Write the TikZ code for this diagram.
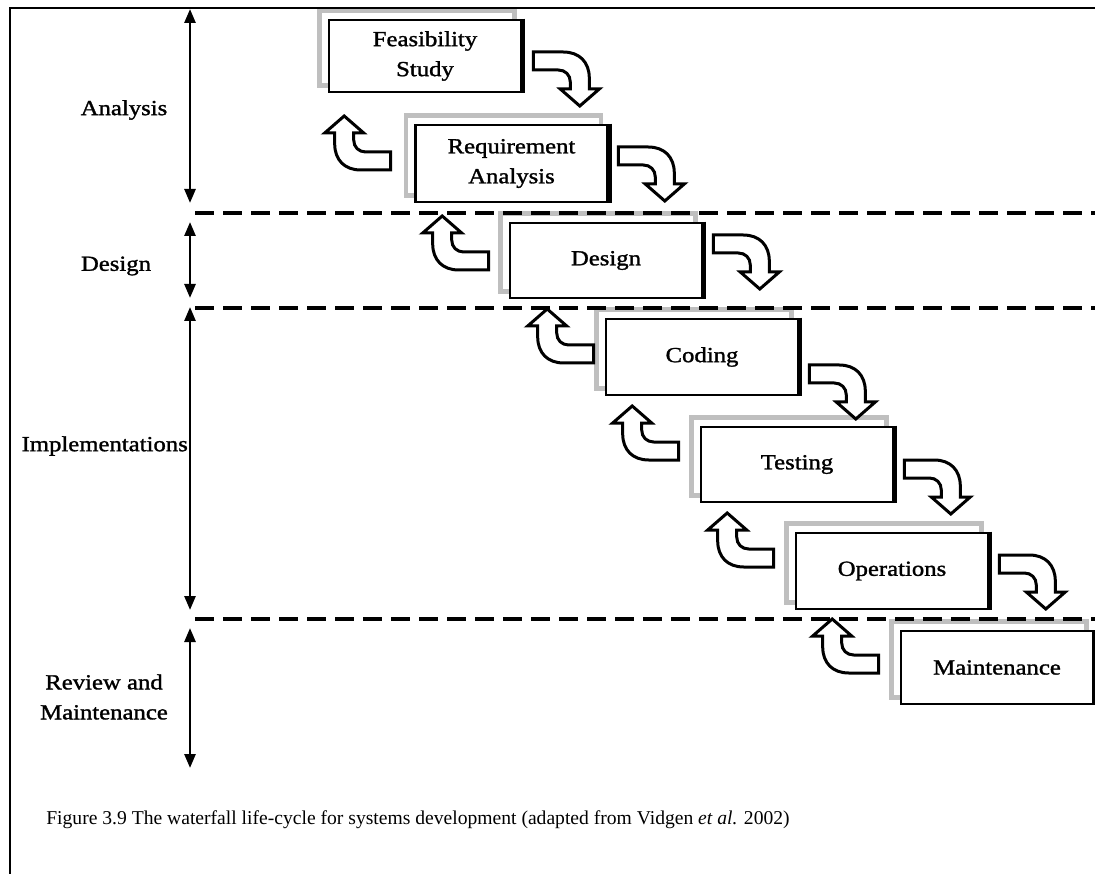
\documentclass[tikz,border=0pt]{standalone}
\usepackage{fontspec}
\setmainfont{Liberation Serif}
\newfontfamily\lblfont[FakeStretch=1.15,FakeBold=1.4]{Liberation Serif}
\usetikzlibrary{arrows.meta,calc,backgrounds}

\tikzset{
  lbl/.style={font=\lblfont\fontsize{21.5}{30}\selectfont, align=center, inner sep=0pt},
  stage/.style={lbl, draw=black, line width=2.6pt, fill=white,
    minimum width=192pt, minimum height=75pt},
  shadowband/.style={draw=black!25, line width=4.5pt},
  phase/.style={line width=2.6pt, {Triangle[width=11pt,length=14pt]}-{Triangle[width=11pt,length=14pt]}},
  divider/.style={line width=4.5pt, dash pattern=on 19pt off 9pt},
  frame/.style={line width=2pt},
  pics/turnarrow/.style={code={
    \draw[line width=3pt, fill=white, line join=miter]
      (0,0) -- (30,0) .. controls (46,0) and (56,10) .. (56,26) -- (56,37)
      -- (66,37) -- (46.5,54) -- (27,37) -- (37,37) -- (37,30)
      .. controls (37,23) and (32,18) .. (25,18) -- (0,18) -- cycle;
  }}
}

\begin{document}
\begin{tikzpicture}[x=1pt,y=-1pt]
\useasboundingbox (0,0) rectangle (1095,874);

% outer frame (top and left rules)
\draw[frame] (10,874) -- (10,8) -- (1095,8);

% phase dividers
\draw[divider] (195,213) -- (1095,213);
\draw[divider] (195,308) -- (1095,308);
\draw[divider] (195,619) -- (1095,619);

% phase extents
\coordinate (pa1) at (190,9);   \coordinate (pa2) at (190,203);
\coordinate (pd1) at (190,222); \coordinate (pd2) at (190,298);
\coordinate (pi1) at (190,307); \coordinate (pi2) at (190,610);
\coordinate (pr1) at (190,628); \coordinate (pr2) at (190,768);
\draw[phase] (pa1) -- (pa2);
\draw[phase] (pd1) -- (pd2);
\draw[phase] (pi1) -- (pi2);
\draw[phase] (pr1) -- (pr2);

% phase names
\node[lbl] (lana) at (124,110) {Analysis};
\node[lbl] (ldes) at (116,266) {Design};
\node[lbl, anchor=east] (limp) at (188,446) {Implementations};
\node[lbl] (lrev) at (104,697) {Review and\\Maintenance};

% stages
\node[stage, minimum height=72pt] (feas) at (425,56) {Feasibility\\Study};
\node[stage, minimum height=77pt] (req)  at (511.5,163.5) {Requirement\\Analysis};
\node[stage] (des)  at (606,260.5) {Design};
\node[stage, minimum height=76pt] (cod)  at (702,357) {Coding};
\node[stage] (tes)  at (797,464.5) {Testing};
\node[stage, minimum height=76pt] (ope)  at (892,571) {Operations};
\node[stage, minimum height=73pt] (mai)  at (997,667.5) {Maintenance};

% stippled offset outline behind each stage
\begin{pgfonlayer}{background}
\foreach \n in {feas,req,des,cod,tes,ope,mai}
  \draw[shadowband] ($(\n.north west)+(-8,-8)$) rectangle ($(\n.south east)+(-8,-8)$);
\end{pgfonlayer}

% heavier right edges
\foreach \n in {feas,req,des,cod,tes,ope,mai}
  \draw[line width=4pt] ($(\n.north east)+(0.8,0)$) -- ($(\n.south east)+(0.8,0)$);

% forward flow (down the cascade)
\pic at ($(feas.east)+(11,-4)$)   {turnarrow};
\pic at ($(req.east)+(9.5,-16.5)$) {turnarrow};
\pic at ($(des.east)+(10,-25.5)$) {turnarrow};
\pic at ($(cod.east)+(10,8)$)     {turnarrow};
\pic at ($(tes.east)+(10,-4.5)$)  {turnarrow};
\pic at ($(ope.east)+(10,-16)$)   {turnarrow};

% feedback flow (back up the cascade)
\pic[rotate=180] at ($(req.west)+(-23.5,6.5)$) {turnarrow};
\pic[rotate=180] at ($(des.west)+(-20,9.5)$)   {turnarrow};
\pic[rotate=180] at ($(cod.west)+(-11,6)$)     {turnarrow};
\pic[rotate=180] at ($(tes.west)+(-21,-4.5)$)  {turnarrow};
\pic[rotate=180] at ($(ope.west)+(-21,-4)$)    {turnarrow};
\pic[rotate=180] at ($(mai.west)+(-21,5.5)$)   {turnarrow};

% caption
\node[font=\fontsize{19.6}{22}\selectfont, inner sep=0pt] (cap) at (418,820)
  {Figure 3.9 The waterfall life-cycle for systems development (adapted from Vidgen \textit{et al.} 2002)};
\end{tikzpicture}
\end{document}
